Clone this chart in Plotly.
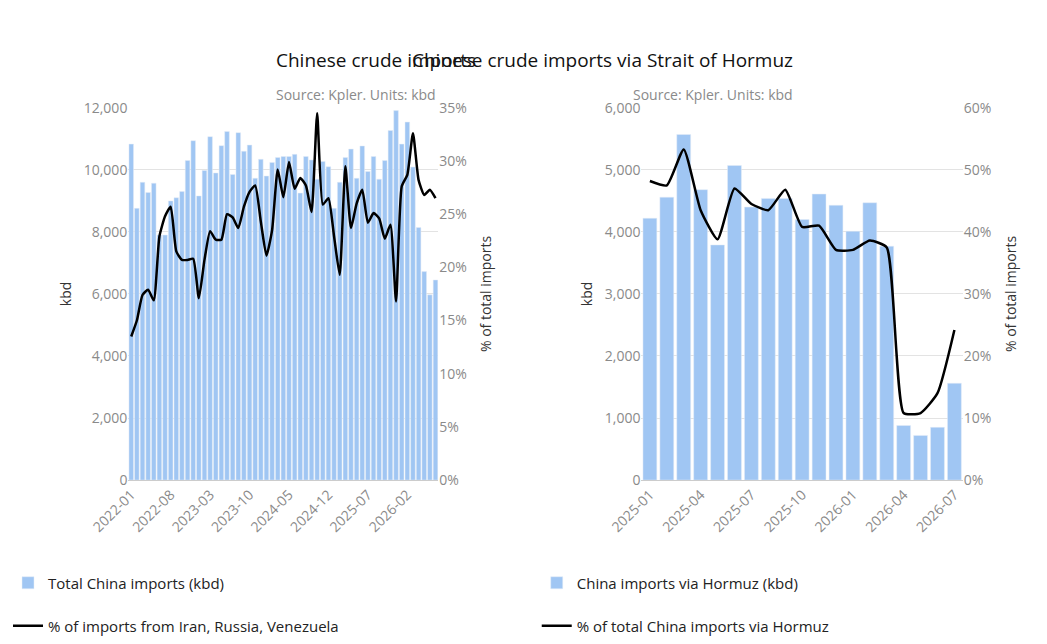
import plotly.graph_objects as go
from plotly.subplots import make_subplots

# left chart: monthly totals and share from Iran/Russia/Venezuela
months_l = [f"{y}-{m:02d}" for y in range(2022, 2027) for m in range(1, 13)][:55]
total_imports = [10830, 8760, 9600, 9270, 9570, 7900, 7900, 9000, 9100, 9300,
                 10300, 10940, 9160, 9980, 11070, 9900, 10780, 11240, 9850, 11200,
                 10600, 10800, 9730, 10340, 9800, 10240, 10400, 10430, 10430, 10500,
                 9250, 10430, 10320, 9700, 10270, 10100, 8760, 9600, 10400, 10670,
                 9730, 10770, 9950, 10430, 9700, 10300, 11270, 11910, 10830, 11540,
                 10090, 8140, 6720, 5970, 6450]
share_irv = [13.5, 15.0, 17.4, 17.9, 16.9, 22.9, 24.8, 25.7, 21.5, 20.7,
             20.7, 20.8, 17.1, 20.7, 23.4, 22.6, 22.6, 25.0, 24.7, 23.7,
             25.7, 27.1, 27.7, 24.3, 21.1, 23.5, 29.2, 26.6, 29.9, 27.4,
             28.4, 27.7, 25.2, 34.5, 25.9, 26.5, 22.9, 19.3, 29.5, 23.7,
             26.0, 27.3, 24.2, 25.1, 24.6, 22.7, 24.0, 16.8, 27.6, 28.7,
             32.6, 28.2, 26.8, 27.3, 26.5]
ticks_l = ["2022-01", "2022-08", "2023-03", "2023-10", "2024-05", "2024-12", "2025-07", "2026-02"]

# right chart: Hormuz volumes and share
months_r = [f"{y}-{m:02d}" for y in (2025, 2026) for m in range(1, 13)][:19]
hormuz_imports = [4220, 4560, 5570, 4680, 3790, 5070, 4400, 4540, 4540, 4200,
                  4610, 4430, 4010, 4470, 3770, 880, 720, 850, 1560]
hormuz_share = [48.2, 47.5, 53.3, 43.5, 38.8, 47.0, 44.5, 43.5, 46.8, 40.8,
                41.0, 37.1, 37.1, 38.6, 37.5, 10.8, 10.8, 14.0, 24.2]
ticks_r = ["2025-01", "2025-04", "2025-07", "2025-10", "2026-01", "2026-04", "2026-07"]

BAR = "#a0c6f3"
GRID = "#e3e3e3"
GREY = "#8a8a8a"

fig = make_subplots(rows=1, cols=2, specs=[[{"secondary_y": True}, {"secondary_y": True}]])
fig.add_trace(go.Bar(x=months_l, y=total_imports, marker_color=BAR, name="Total China imports (kbd)",
                     legend="legend"), row=1, col=1, secondary_y=False)
fig.add_trace(go.Scatter(x=months_l, y=share_irv, mode="lines",
                         line=dict(color="black", width=2.5, shape="spline", smoothing=0.5),
                         name="% of imports from Iran, Russia, Venezuela", legend="legend2"),
              row=1, col=1, secondary_y=True)
fig.add_trace(go.Bar(x=months_r, y=hormuz_imports, marker_color=BAR, name="China imports via Hormuz (kbd)",
                     legend="legend3"), row=1, col=2, secondary_y=False)
fig.add_trace(go.Scatter(x=months_r, y=hormuz_share, mode="lines",
                         line=dict(color="black", width=2.5, shape="spline", smoothing=0.5),
                         name="% of total China imports via Hormuz", legend="legend4"),
              row=1, col=2, secondary_y=True)

ydom = [0.267, 0.845]
axfont = dict(family="Open Sans", size=14, color=GREY)
ttl = dict(size=14, color="#333")
fig.update_layout(
    width=1047, height=644, margin=dict(l=0, r=0, t=0, b=0, autoexpand=False),
    paper_bgcolor="white", plot_bgcolor="white", showlegend=True, bargap=0.18,
    font=dict(family="Open Sans", color="#222"),
    xaxis=dict(domain=[0.115, 0.411], type="category", tickvals=ticks_l, tickangle=-45, tickfont=axfont,
               showline=True, linecolor="#ccc", automargin=False),
    xaxis2=dict(domain=[0.605, 0.912], type="category", tickvals=ticks_r, tickangle=-45, tickfont=axfont,
                showline=True, linecolor="#ccc", automargin=False),
    yaxis=dict(domain=ydom, range=[0, 12000], dtick=2000, tickformat=",", gridcolor=GRID, tickfont=axfont,
               title=dict(text="kbd", font=ttl, standoff=8), zeroline=False, automargin=False),
    yaxis2=dict(range=[0, 35], dtick=5, ticksuffix="%", showgrid=False, tickfont=axfont,
                title=dict(text="% of total imports", font=ttl), automargin=False),
    yaxis3=dict(domain=ydom, range=[0, 6000], dtick=1000, tickformat=",", gridcolor=GRID, tickfont=axfont,
                title=dict(text="kbd", font=ttl, standoff=8), zeroline=False, automargin=False),
    yaxis4=dict(range=[0, 60], dtick=10, ticksuffix="%", showgrid=False, tickfont=axfont,
                title=dict(text="% of total imports", font=ttl), automargin=False),
)

leg = dict(font=dict(size=15, color="#222"), bgcolor="rgba(0,0,0,0)", xanchor="left", yanchor="middle")
fig.update_layout(
    legend=dict(x=0.0, y=1 - 575 / 644, **leg),
    legend2=dict(x=0.0, y=1 - 618 / 644, **leg),
    legend3=dict(x=0.505, y=1 - 575 / 644, **leg),
    legend4=dict(x=0.505, y=1 - 618 / 644, **leg),
)

for x, title in [(0.254, "Chinese crude imports"), (0.752, "Chinese crude imports via Strait of Hormuz")]:
    fig.add_annotation(x=x, y=1 - 37 / 644, xref="paper", yref="paper", text=title, showarrow=False,
                       font=dict(size=19, color="#111"))
    fig.add_annotation(x=x, y=1 - 75 / 644, xref="paper", yref="paper", text="Source: Kpler. Units: kbd",
                       showarrow=False, font=dict(size=14, color=GREY))

fig.write_html("out.html")
